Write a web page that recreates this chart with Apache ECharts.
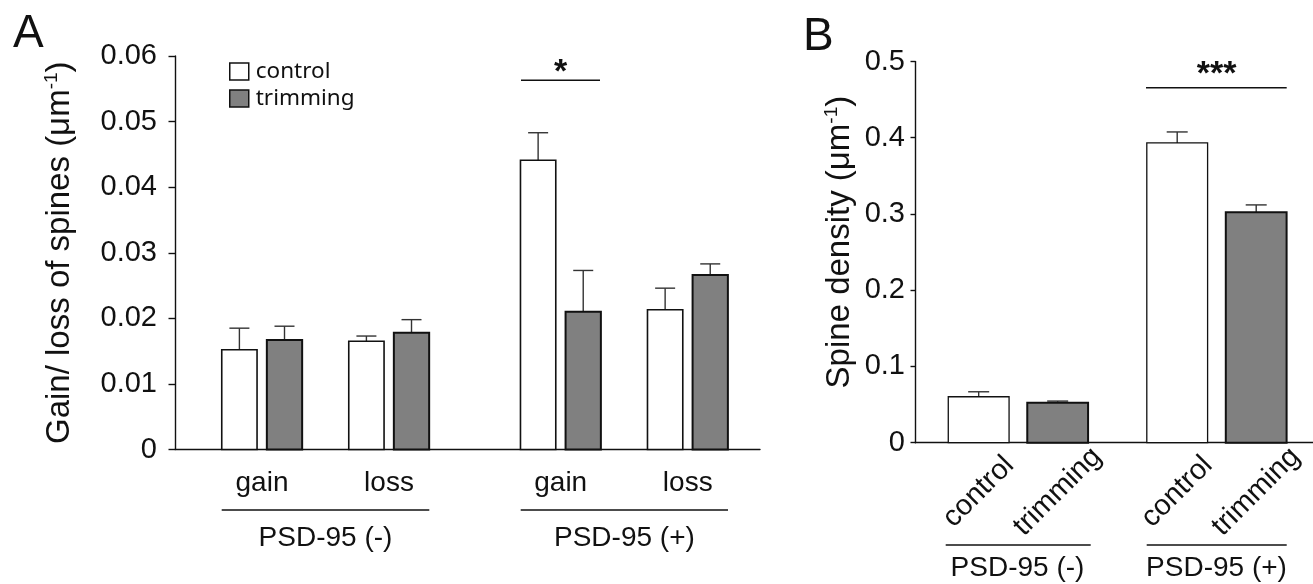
<!DOCTYPE html>
<html>
<head>
<meta charset="utf-8">
<script src="https://cdn.jsdelivr.net/npm/echarts@6/dist/echarts.min.js"></script>
<style>
  html, body { margin: 0; padding: 0; background: #fff; }
  #chart { width: 1313px; height: 584px; }
</style>
</head>
<body>
<div id="chart"></div>
<script>
// panel A: gain / loss of spines
const catsA = ['gain', 'loss', 'gain', 'loss']
const controlA = [0.0152, 0.0165, 0.0441, 0.0213]
const controlErrA = [0.0033, 0.0008, 0.0042, 0.0033]
const trimA = [0.0167, 0.0178, 0.0210, 0.0266]
const trimErrA = [0.0021, 0.0020, 0.0063, 0.0017]

// panel B: spine density
const catsB = ['control', 'trimming', 'control', 'trimming']
const densB = [0.0603, 0.0524, 0.3932, 0.3024]
const densErrB = [0.0065, 0.0022, 0.0144, 0.0095]

const groups = ['PSD-95 (-)', 'PSD-95 (+)']

// x placement of categories (axis units), not data
const posA = [1, 2, 3.352, 4.352]
const posB = [1, 2, 3.513, 4.513]

const FONT = 'Liberation Sans'
const INK = '#111'
const GRAY = '#808080'

function nearest (pos, v) {
    let best = 0
    pos.forEach((p, i) => { if (Math.abs(p - v) < Math.abs(pos[best] - v)) best = i })
    return best
}

// bar with upward error bar, drawn through the axis scales
function makeBar (opts) {
    return function (params, api) {
        const x = api.value(0)
        const y = api.value(1)
        const e = api.value(2)
        const base = api.coord([x, 0])
        const top = api.coord([x, y])
        const errTop = api.coord([x, y + e])
        const cx = base[0] + opts.offset
        const fill = opts.fill || (opts.fillOf(params.dataIndex))
        const lw = fill === GRAY ? opts.grayBorder : opts.whiteBorder
        return {
            type: 'group',
            children: [
                {type: 'line', shape: {x1: cx, y1: top[1], x2: cx, y2: errTop[1]}, style: {stroke: '#333', lineWidth: 1.4}},
                {type: 'line', shape: {x1: cx - opts.cap / 2, y1: errTop[1], x2: cx + opts.cap / 2, y2: errTop[1]}, style: {stroke: '#333', lineWidth: 1.4}},
                {type: 'rect', shape: {x: cx - opts.width / 2, y: top[1], width: opts.width, height: base[1] - top[1]},
                    style: {fill: fill, stroke: INK, lineWidth: lw}}
            ]
        }
    }
}

const chart = echarts.init(document.getElementById('chart'))

const supRich = {
    sup: {fontSize: 19, fontFamily: FONT, color: INK, verticalAlign: 'top', lineHeight: 36}
}

chart.setOption({
    animation: false,
    backgroundColor: '#fff',
    textStyle: {fontFamily: FONT, color: INK},
    legend: {
        orient: 'vertical',
        left: 224,
        top: 55,
        itemWidth: 19,
        itemHeight: 17,
        itemGap: 4,
        icon: 'rect',
        selectedMode: false,
        textStyle: {fontFamily: 'Noto Sans', fontSize: 22.5, color: INK, padding: [0, 0, 0, 2]},
        data: [
            {name: 'control', itemStyle: {color: '#fff', borderColor: INK, borderWidth: 1.5}},
            {name: 'trimming', itemStyle: {color: GRAY, borderColor: INK, borderWidth: 1.5}}
        ]
    },
    grid: [
        {left: 175, right: 553, top: 56, bottom: 134.5},
        {left: 915, right: 0, top: 61.5, bottom: 141.3}
    ],
    xAxis: [
        {
            type: 'value', gridIndex: 0, min: 0.315, max: 4.921,
            splitLine: {show: false},
            axisLine: {lineStyle: {color: INK, width: 1.4}},
            axisTick: {show: false},
            axisLabel: {
                customValues: posA,
                margin: 20,
                fontSize: 28,
                fontFamily: FONT,
                color: INK,
                formatter: v => catsA[nearest(posA, v)]
            }
        },
        {
            type: 'value', gridIndex: 1, min: 0.194, max: 5.232,
            splitLine: {show: false},
            axisLine: {lineStyle: {color: INK, width: 1.4}},
            axisTick: {show: false},
            axisLabel: {
                customValues: posB,
                rotate: 45,
                align: 'center',
                verticalAlign: 'middle',
                margin: 49,
                fontSize: 29,
                fontFamily: FONT,
                color: INK,
                formatter: v => catsB[nearest(posB, v)]
            }
        }
    ],
    yAxis: [
        {
            type: 'value', gridIndex: 0, min: 0, max: 0.06, interval: 0.01,
            splitLine: {show: false},
            axisLine: {show: true, lineStyle: {color: INK, width: 1.4}},
            axisTick: {show: true, length: 6.5, lineStyle: {color: INK, width: 1.4}},
            axisLabel: {margin: 18, fontSize: 29, fontFamily: FONT, color: INK},
            name: 'Gain/ loss of spines (μm{sup|-1})',
            nameLocation: 'middle',
            nameGap: 97,
            nameTextStyle: {fontSize: 33, fontFamily: FONT, color: INK, lineHeight: 36, rich: supRich}
        },
        {
            type: 'value', gridIndex: 1, min: 0, max: 0.5, interval: 0.1,
            splitLine: {show: false},
            axisLine: {show: true, lineStyle: {color: INK, width: 1.4}},
            axisTick: {show: true, length: 4.5, lineStyle: {color: INK, width: 1.4}},
            axisLabel: {margin: 10, fontSize: 29, fontFamily: FONT, color: INK},
            name: 'Spine density (μm{sup|-1})',
            nameLocation: 'middle',
            nameGap: 57,
            nameTextStyle: {fontSize: 33, fontFamily: FONT, color: INK, lineHeight: 36, rich: supRich, padding: [0, 0, 0, 20]}
        }
    ],
    series: [
        {
            name: 'control', type: 'custom', xAxisIndex: 0, yAxisIndex: 0,
            itemStyle: {color: '#fff'},
            encode: {x: 0, y: 1},
            renderItem: makeBar({offset: -22.6, width: 35.3, cap: 20, fill: '#fff', whiteBorder: 1.6, grayBorder: 2}),
            data: posA.map((p, i) => [p, controlA[i], controlErrA[i]])
        },
        {
            name: 'trimming', type: 'custom', xAxisIndex: 0, yAxisIndex: 0,
            itemStyle: {color: GRAY},
            encode: {x: 0, y: 1},
            renderItem: makeBar({offset: 22.5, width: 35.3, cap: 20, fill: GRAY, whiteBorder: 1.6, grayBorder: 2}),
            data: posA.map((p, i) => [p, trimA[i], trimErrA[i]])
        },
        {
            name: 'density', type: 'custom', xAxisIndex: 1, yAxisIndex: 1,
            encode: {x: 0, y: 1},
            renderItem: makeBar({offset: 0, width: 60.8, cap: 21, fillOf: i => catsB[i] === 'control' ? '#fff' : GRAY, whiteBorder: 1.3, grayBorder: 2}),
            data: posB.map((p, i) => [p, densB[i], densErrB[i]])
        }
    ],
    graphic: [
        // panel letters
        {type: 'text', left: 13, top: 11, style: {text: 'A', font: '46px "Liberation Sans"', fill: INK}},
        {type: 'text', left: 803, top: 14, style: {text: 'B', font: '46px "Liberation Sans"', fill: INK}},
        // significance
        {type: 'line', shape: {x1: 521, y1: 80.3, x2: 600, y2: 80.3}, style: {stroke: INK, lineWidth: 1.4}},
        {type: 'text', x: 560.7, y: 73, style: {text: '*', font: 'bold 34px "Liberation Sans"', fill: INK, align: 'center', verticalAlign: 'middle'}},
        {type: 'line', shape: {x1: 1146, y1: 87.7, x2: 1286.7, y2: 87.7}, style: {stroke: INK, lineWidth: 1.4}},
        {type: 'text', x: 1216.7, y: 75, style: {text: '***', font: 'bold 34px "Liberation Sans"', fill: INK, align: 'center', verticalAlign: 'middle'}},
        // group brackets, panel A
        {type: 'line', shape: {x1: 221.7, y1: 510, x2: 429.3, y2: 510}, style: {stroke: INK, lineWidth: 1.4}},
        {type: 'line', shape: {x1: 520.7, y1: 510, x2: 728, y2: 510}, style: {stroke: INK, lineWidth: 1.4}},
        {type: 'text', x: 325.5, y: 538, style: {text: groups[0], font: '28px "Liberation Sans"', fill: INK, align: 'center', verticalAlign: 'middle'}},
        {type: 'text', x: 624.4, y: 538, style: {text: groups[1], font: '28px "Liberation Sans"', fill: INK, align: 'center', verticalAlign: 'middle'}},
        // group brackets, panel B
        {type: 'line', shape: {x1: 945.7, y1: 545, x2: 1090.7, y2: 545}, style: {stroke: INK, lineWidth: 1.4}},
        {type: 'line', shape: {x1: 1146.7, y1: 545, x2: 1286.7, y2: 545}, style: {stroke: INK, lineWidth: 1.4}},
        {type: 'text', x: 1017.5, y: 568.5, style: {text: groups[0], font: '28px "Liberation Sans"', fill: INK, align: 'center', verticalAlign: 'middle'}},
        {type: 'text', x: 1216.5, y: 568.5, style: {text: groups[1], font: '28px "Liberation Sans"', fill: INK, align: 'center', verticalAlign: 'middle'}}
    ]
})
</script>
</body>
</html>
